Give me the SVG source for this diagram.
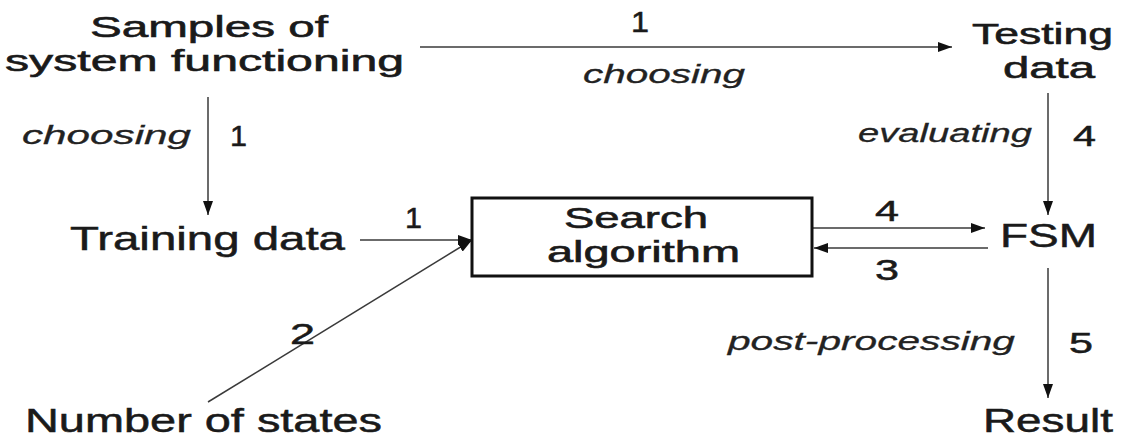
<svg xmlns="http://www.w3.org/2000/svg" width="1124" height="439" viewBox="0 0 1124 439">
  <style>
    .lbl { font-family: "Liberation Sans", Arial, sans-serif; font-size: 33px; fill: #1a1a1a; stroke: #1a1a1a; stroke-width: 0.5; }
    .ml { font-size: 30px; stroke-width: 0.6; }
    .it { font-family: "Liberation Sans", Arial, sans-serif; font-size: 26px; font-style: italic; fill: #222; stroke: #222; stroke-width: 0.3; }
    .num { font-family: "Liberation Sans", Arial, sans-serif; font-size: 29px; fill: #1a1a1a; stroke: #1a1a1a; stroke-width: 0.5; }
    .edge { stroke: #3a3a3a; stroke-width: 1.5; fill: none; marker-end: url(#arr); }
    .box { fill: #fff; stroke: #111; stroke-width: 3; }
  </style>
  <defs>
    <marker id="arr" markerUnits="userSpaceOnUse" markerWidth="14" markerHeight="10" refX="14" refY="5" orient="auto">
      <path d="M0,0 L14,5 L0,10 z" fill="#111"/>
    </marker>
  </defs>
  <rect width="1124" height="439" fill="#fff"/>

  <g id="connectors">
    <line class="edge" x1="420" y1="47" x2="952" y2="47"/>
    <line class="edge" x1="208" y1="97" x2="208" y2="215"/>
    <line class="edge" x1="1048" y1="93" x2="1048" y2="215"/>
    <line class="edge" x1="360" y1="240" x2="472" y2="240"/>
    <line class="edge" x1="208" y1="402" x2="472" y2="240"/>
    <line class="edge" x1="812" y1="228" x2="985" y2="228"/>
    <line class="edge" x1="988" y1="248" x2="814" y2="248"/>
    <line class="edge" x1="1048" y1="268" x2="1048" y2="398"/>
  </g>

  <g id="edge-labels">
    <text class="num" x="631" y="32" textLength="18" lengthAdjust="spacingAndGlyphs">1</text>
    <text class="it" x="583" y="83" textLength="162" lengthAdjust="spacingAndGlyphs">choosing</text>
    <text class="it" x="22" y="144" textLength="169" lengthAdjust="spacingAndGlyphs">choosing</text>
    <text class="num" x="230" y="146" textLength="17" lengthAdjust="spacingAndGlyphs">1</text>
    <text class="it" x="858" y="142" textLength="174" lengthAdjust="spacingAndGlyphs">evaluating</text>
    <text class="num" x="1073" y="146" textLength="23" lengthAdjust="spacingAndGlyphs">4</text>
    <text class="num" x="405" y="228" textLength="17" lengthAdjust="spacingAndGlyphs">1</text>
    <text class="num" x="875" y="221" textLength="24" lengthAdjust="spacingAndGlyphs">4</text>
    <text class="num" x="875" y="280" textLength="24" lengthAdjust="spacingAndGlyphs">3</text>
    <text class="num" x="290" y="344" textLength="25" lengthAdjust="spacingAndGlyphs">2</text>
    <text class="it" x="728" y="350" textLength="287" lengthAdjust="spacingAndGlyphs">post-processing</text>
    <text class="num" x="1069" y="353" textLength="24" lengthAdjust="spacingAndGlyphs">5</text>
  </g>

  <g id="samples">
    <text class="lbl ml" x="90" y="37" textLength="238" lengthAdjust="spacingAndGlyphs">Samples of</text>
    <text class="lbl ml" x="5" y="71" textLength="399" lengthAdjust="spacingAndGlyphs">system functioning</text>
  </g>
  <g id="testing-data">
    <text class="lbl ml" x="972" y="44" textLength="141" lengthAdjust="spacingAndGlyphs">Testing</text>
    <text class="lbl ml" x="1003" y="78" textLength="92" lengthAdjust="spacingAndGlyphs">data</text>
  </g>
  <g id="training-data">
    <text class="lbl" x="70" y="250" textLength="275" lengthAdjust="spacingAndGlyphs">Training data</text>
  </g>
  <g id="search-algorithm">
    <rect class="box" x="472" y="198" width="340" height="78"/>
    <text class="lbl ml" x="564" y="228" textLength="144" lengthAdjust="spacingAndGlyphs">Search</text>
    <text class="lbl ml" x="547" y="262" textLength="193" lengthAdjust="spacingAndGlyphs">algorithm</text>
  </g>
  <g id="fsm">
    <text class="lbl" x="1000" y="247" textLength="97" lengthAdjust="spacingAndGlyphs">FSM</text>
  </g>
  <g id="number-of-states">
    <text class="lbl" x="25" y="432" textLength="357" lengthAdjust="spacingAndGlyphs">Number of states</text>
  </g>
  <g id="result">
    <text class="lbl" x="983" y="432" textLength="130" lengthAdjust="spacingAndGlyphs">Result</text>
  </g>
</svg>
